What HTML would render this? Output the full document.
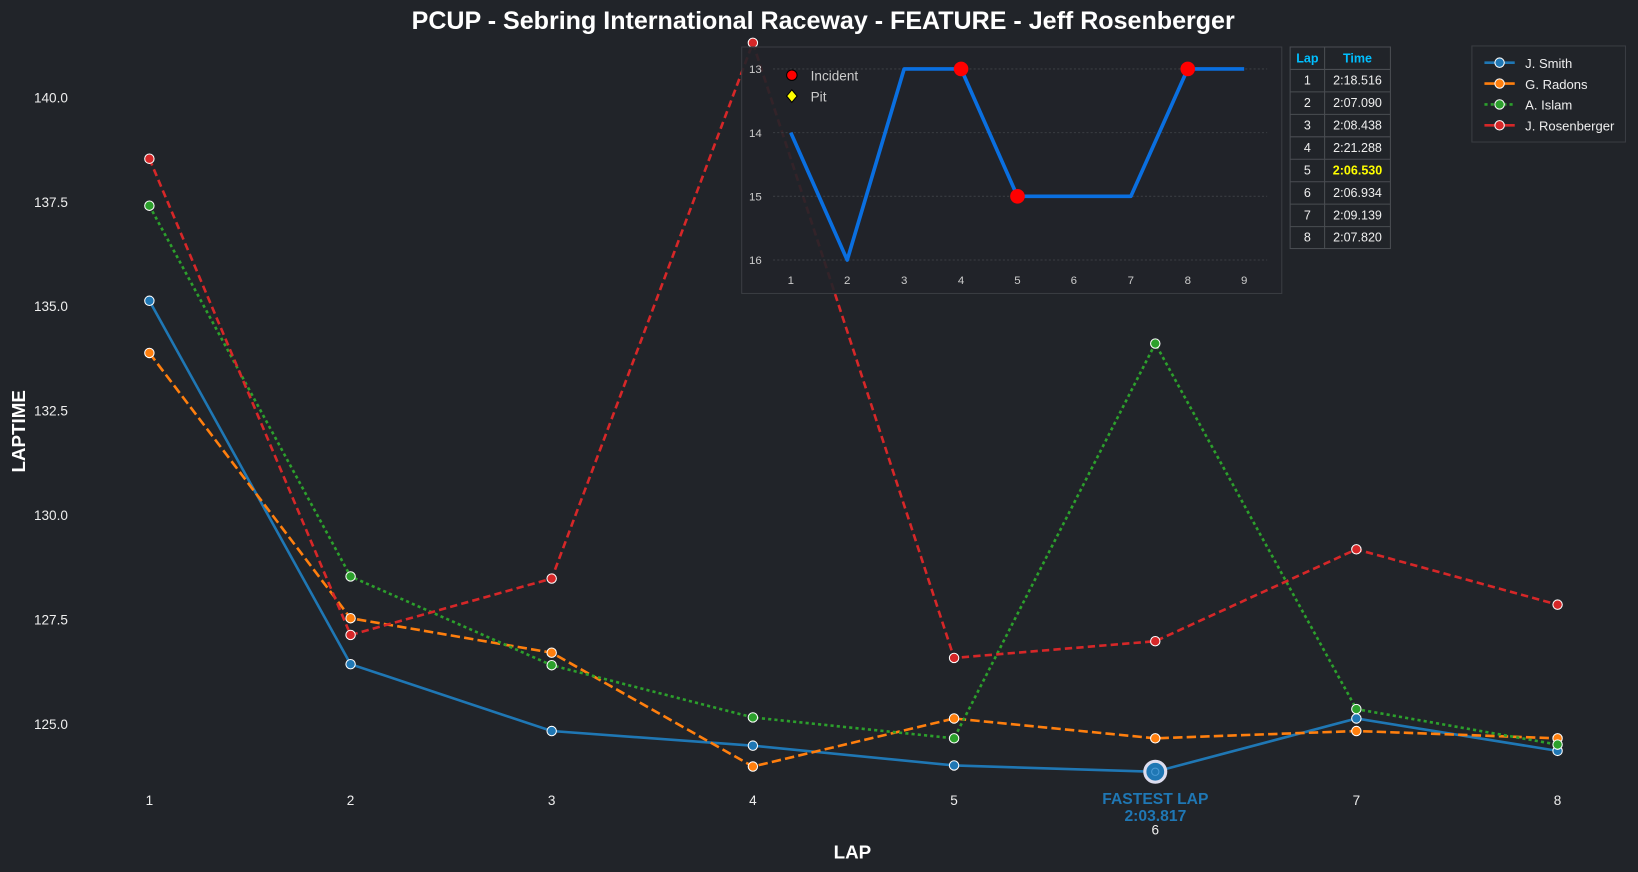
<!DOCTYPE html>
<html><head><meta charset="utf-8"><style>
html,body{margin:0;padding:0;background:#212429;}
svg{display:block;font-family:"Liberation Sans",Arial,sans-serif;}
</style></head><body>
<svg width="1638" height="872" viewBox="0 0 1568 835" preserveAspectRatio="none">
<rect width="1568" height="835" fill="#212429"/>
<text x="788" y="28" text-anchor="middle" font-size="24" font-weight="bold" fill="#fff">PCUP - Sebring International Raceway - FEATURE - Jeff Rosenberger</text>
<g font-size="13" fill="#eee" text-anchor="end">
<text x="65" y="98">140.0</text><text x="65" y="198">137.5</text><text x="65" y="298">135.0</text><text x="65" y="398">132.5</text><text x="65" y="498">130.0</text><text x="65" y="598">127.5</text><text x="65" y="698">125.0</text>
</g>
<g font-size="13" fill="#eee" text-anchor="middle">
<text x="143" y="771">1</text><text x="335.6" y="771">2</text><text x="528.1" y="771">3</text><text x="720.7" y="771">4</text><text x="913.3" y="771">5</text><text x="1105.9" y="799">6</text><text x="1298.4" y="771">7</text><text x="1491" y="771">8</text>
</g>
<text x="816" y="822" text-anchor="middle" font-size="18" font-weight="bold" fill="#fff">LAP</text>
<text transform="translate(24,413) rotate(-90)" text-anchor="middle" font-size="18" font-weight="bold" fill="#fff">LAPTIME</text>

<g fill="none" stroke-width="2.5">
<polyline stroke="#1f77b4" points="143,288 335.6,636 528.1,700 720.7,714 913.3,733 1105.9,739 1298.4,688 1491,719"/>
<polyline stroke="#ff7f0e" stroke-dasharray="9,4" points="143,338 335.6,592 528.1,625 720.7,734 913.3,688 1105.9,707 1298.4,700 1491,707"/>
<polyline stroke="#2ca02c" stroke-dasharray="3,3" points="143,197 335.6,552 528.1,637 720.7,687 913.3,707 1105.9,329 1298.4,679 1491,713"/>
<polyline stroke="#d62728" stroke-dasharray="7,4" points="143,152 335.6,608 528.1,554 720.7,41 913.3,630 1105.9,614 1298.4,526 1491,579"/>
</g>
<g stroke="#fff" stroke-width="1">
<g fill="#1f77b4"><circle cx="143" cy="288" r="4.5"/><circle cx="335.6" cy="636" r="4.5"/><circle cx="528.1" cy="700" r="4.5"/><circle cx="720.7" cy="714" r="4.5"/><circle cx="913.3" cy="733" r="4.5"/><circle cx="1298.4" cy="688" r="4.5"/><circle cx="1491" cy="719" r="4.5"/></g>
<g fill="#ff7f0e"><circle cx="143" cy="338" r="4.5"/><circle cx="335.6" cy="592" r="4.5"/><circle cx="528.1" cy="625" r="4.5"/><circle cx="720.7" cy="734" r="4.5"/><circle cx="913.3" cy="688" r="4.5"/><circle cx="1105.9" cy="707" r="4.5"/><circle cx="1298.4" cy="700" r="4.5"/><circle cx="1491" cy="707" r="4.5"/></g>
<g fill="#2ca02c"><circle cx="143" cy="197" r="4.5"/><circle cx="335.6" cy="552" r="4.5"/><circle cx="528.1" cy="637" r="4.5"/><circle cx="720.7" cy="687" r="4.5"/><circle cx="913.3" cy="707" r="4.5"/><circle cx="1105.9" cy="329" r="4.5"/><circle cx="1298.4" cy="679" r="4.5"/><circle cx="1491" cy="713" r="4.5"/></g>
<g fill="#d62728"><circle cx="143" cy="152" r="4.5"/><circle cx="335.6" cy="608" r="4.5"/><circle cx="528.1" cy="554" r="4.5"/><circle cx="720.7" cy="41" r="4.5"/><circle cx="913.3" cy="630" r="4.5"/><circle cx="1105.9" cy="614" r="4.5"/><circle cx="1298.4" cy="526" r="4.5"/><circle cx="1491" cy="579" r="4.5"/></g>
</g>
<circle cx="1105.9" cy="739" r="10" fill="#1f77b4" stroke="#dde" stroke-width="3"/>
<circle cx="1105.9" cy="739" r="3.5" fill="none" stroke="#4a9ad4" stroke-width="1"/>
<text x="1106" y="770" text-anchor="middle" font-size="15" font-weight="bold" fill="#1f77b4">FASTEST LAP</text>
<text x="1106" y="786" text-anchor="middle" font-size="15" font-weight="bold" fill="#1f77b4">2:03.817</text>

<!-- inset -->
<rect x="710" y="45" width="517" height="236" fill="#212429" fill-opacity="0.9" stroke="#3a3d42" stroke-width="1"/>
<g stroke="#3a3d42" stroke-dasharray="2,2" stroke-width="1">
<line x1="740" y1="66" x2="1213" y2="66"/><line x1="740" y1="127" x2="1213" y2="127"/><line x1="740" y1="188" x2="1213" y2="188"/><line x1="740" y1="249" x2="1213" y2="249"/>
</g>
<g font-size="11" fill="#ccc">
<text x="717" y="70">13</text><text x="717" y="131">14</text><text x="717" y="192">15</text><text x="717" y="253">16</text>
</g>
<g font-size="11" fill="#ccc" text-anchor="middle">
<text x="757" y="272">1</text><text x="811" y="272">2</text><text x="865.5" y="272">3</text><text x="920" y="272">4</text><text x="974" y="272">5</text><text x="1028" y="272">6</text><text x="1082.5" y="272">7</text><text x="1137" y="272">8</text><text x="1191" y="272">9</text>
</g>
<polyline fill="none" stroke="#0a6fe0" stroke-width="3.5" stroke-linejoin="round" points="757,127 811,249 865.5,66 920,66 974,188 1028,188 1082.5,188 1137,66 1191,66"/>
<g fill="#ff0000"><circle cx="920" cy="66" r="7"/><circle cx="974" cy="188" r="7"/><circle cx="1137" cy="66" r="7"/></g>
<circle cx="758" cy="72" r="5" fill="#ff0000" stroke="#000" stroke-width="1"/>
<polygon points="758,86 763,92 758,98 753,92" fill="#ffff00" stroke="#000" stroke-width="1"/>
<text x="776" y="77" font-size="13" fill="#ccc">Incident</text>
<text x="776" y="97" font-size="13" fill="#ccc">Pit</text>

<!-- table -->
<g stroke="#4a4d52" stroke-width="1" fill="none">
<rect x="1235" y="45" width="96" height="193"/>
<line x1="1268" y1="45" x2="1268" y2="238"/>
<line x1="1235" y1="66.5" x2="1331" y2="66.5"/><line x1="1235" y1="88" x2="1331" y2="88"/><line x1="1235" y1="109.5" x2="1331" y2="109.5"/><line x1="1235" y1="131" x2="1331" y2="131"/><line x1="1235" y1="152.5" x2="1331" y2="152.5"/><line x1="1235" y1="174" x2="1331" y2="174"/><line x1="1235" y1="195.5" x2="1331" y2="195.5"/><line x1="1235" y1="217" x2="1331" y2="217"/>
</g>
<g font-size="12" text-anchor="middle" fill="#eee">
<text x="1251.5" y="60" fill="#00bfff" font-weight="bold">Lap</text><text x="1299.5" y="60" fill="#00bfff" font-weight="bold">Time</text>
<text x="1251.5" y="81">1</text><text x="1299.5" y="81">2:18.516</text>
<text x="1251.5" y="102.5">2</text><text x="1299.5" y="102.5">2:07.090</text>
<text x="1251.5" y="124">3</text><text x="1299.5" y="124">2:08.438</text>
<text x="1251.5" y="145.5">4</text><text x="1299.5" y="145.5">2:21.288</text>
<text x="1251.5" y="167">5</text><text x="1299.5" y="167" fill="#ffff00" font-weight="bold">2:06.530</text>
<text x="1251.5" y="188.5">6</text><text x="1299.5" y="188.5">2:06.934</text>
<text x="1251.5" y="210">7</text><text x="1299.5" y="210">2:09.139</text>
<text x="1251.5" y="231.5">8</text><text x="1299.5" y="231.5">2:07.820</text>
</g>

<!-- legend -->
<rect x="1409" y="44" width="147" height="92" fill="#212429" stroke="#3a3d42"/>
<g stroke-width="2.5">
<line x1="1421" y1="60" x2="1450" y2="60" stroke="#1f77b4"/>
<line x1="1421" y1="80" x2="1450" y2="80" stroke="#ff7f0e"/>
<line x1="1421" y1="100" x2="1450" y2="100" stroke="#2ca02c" stroke-dasharray="3,3"/>
<line x1="1421" y1="120" x2="1450" y2="120" stroke="#d62728"/>
</g>
<g stroke="#fff" stroke-width="1">
<circle cx="1435.5" cy="60" r="4.5" fill="#1f77b4"/><circle cx="1435.5" cy="80" r="4.5" fill="#ff7f0e"/><circle cx="1435.5" cy="100" r="4.5" fill="#2ca02c"/><circle cx="1435.5" cy="120" r="4.5" fill="#d62728"/>
</g>
<g font-size="12.5" fill="#eee">
<text x="1460" y="65">J. Smith</text><text x="1460" y="85">G. Radons</text><text x="1460" y="105">A. Islam</text><text x="1460" y="125">J. Rosenberger</text>
</g>
</svg>
</body></html>
